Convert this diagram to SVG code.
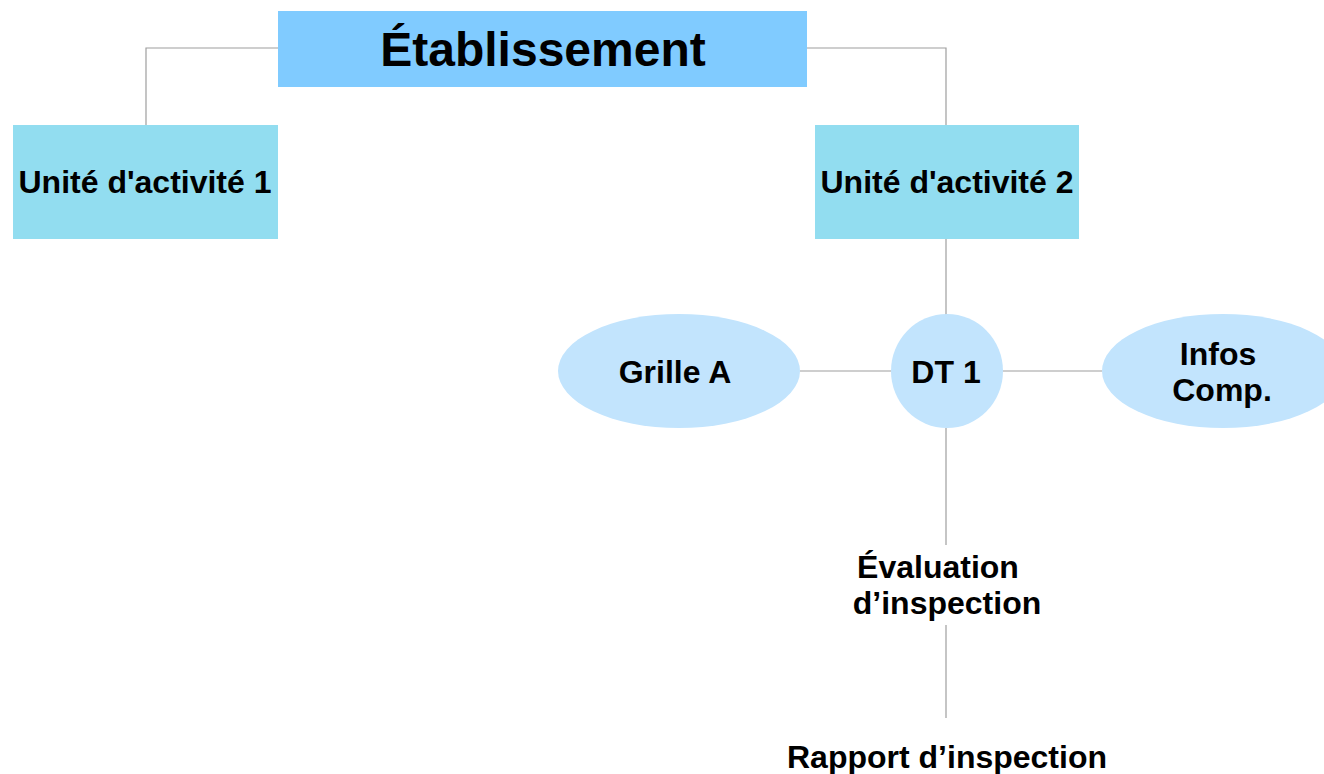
<svg xmlns="http://www.w3.org/2000/svg" width="1324" height="774" viewBox="0 0 1324 774">
<style>
text{font-family:"Liberation Sans",Arial,sans-serif;font-weight:bold;fill:#000;text-anchor:middle}
.t{font-size:48px}
.s{font-size:32px}
.c{stroke:#9E9E9E;stroke-width:1.2;fill:none}
.top{fill:#80CBFF}
.unit{fill:#92DDF0}
.ell{fill:#C2E4FD}
</style>
<rect width="1324" height="774" fill="#fff"/>
<g id="connectors">
<polyline class="c" points="278,48 146,48 146,125"/>
<polyline class="c" points="807,48 946,48 946,125"/>
<line class="c" x1="946" y1="239" x2="946" y2="315"/>
<line class="c" x1="800" y1="371" x2="891" y2="371"/>
<line class="c" x1="1003" y1="371" x2="1102" y2="371"/>
<line class="c" x1="946" y1="428" x2="946" y2="545"/>
<line class="c" x1="946" y1="625" x2="946" y2="718"/>
</g>
<g id="etablissement">
<rect class="top" x="278" y="11" width="529" height="76"/>
<text class="t" x="543" y="66">Établissement</text>
</g>
<g id="unite1">
<rect class="unit" x="13" y="125" width="265" height="114"/>
<text class="s" x="145" y="193">Unité d'activité 1</text>
</g>
<g id="unite2">
<rect class="unit" x="815" y="125" width="264" height="114"/>
<text class="s" x="947" y="193">Unité d'activité 2</text>
</g>
<g id="grilleA">
<ellipse class="ell" cx="679" cy="371" rx="121" ry="57"/>
<text class="s" x="675" y="383">Grille A</text>
</g>
<g id="dt1">
<ellipse class="ell" cx="947" cy="371" rx="56" ry="57"/>
<text class="s" x="946" y="383">DT 1</text>
</g>
<g id="infos">
<ellipse class="ell" cx="1223" cy="371" rx="121" ry="57"/>
<text class="s" x="1218" y="365">Infos</text>
<text class="s" x="1222" y="401">Comp.</text>
</g>
<g id="evaluation">
<text class="s" x="938" y="578">Évaluation</text>
<text class="s" x="947" y="614">d’inspection</text>
</g>
<g id="rapport">
<text class="s" x="947" y="768">Rapport d’inspection</text>
</g>
</svg>
